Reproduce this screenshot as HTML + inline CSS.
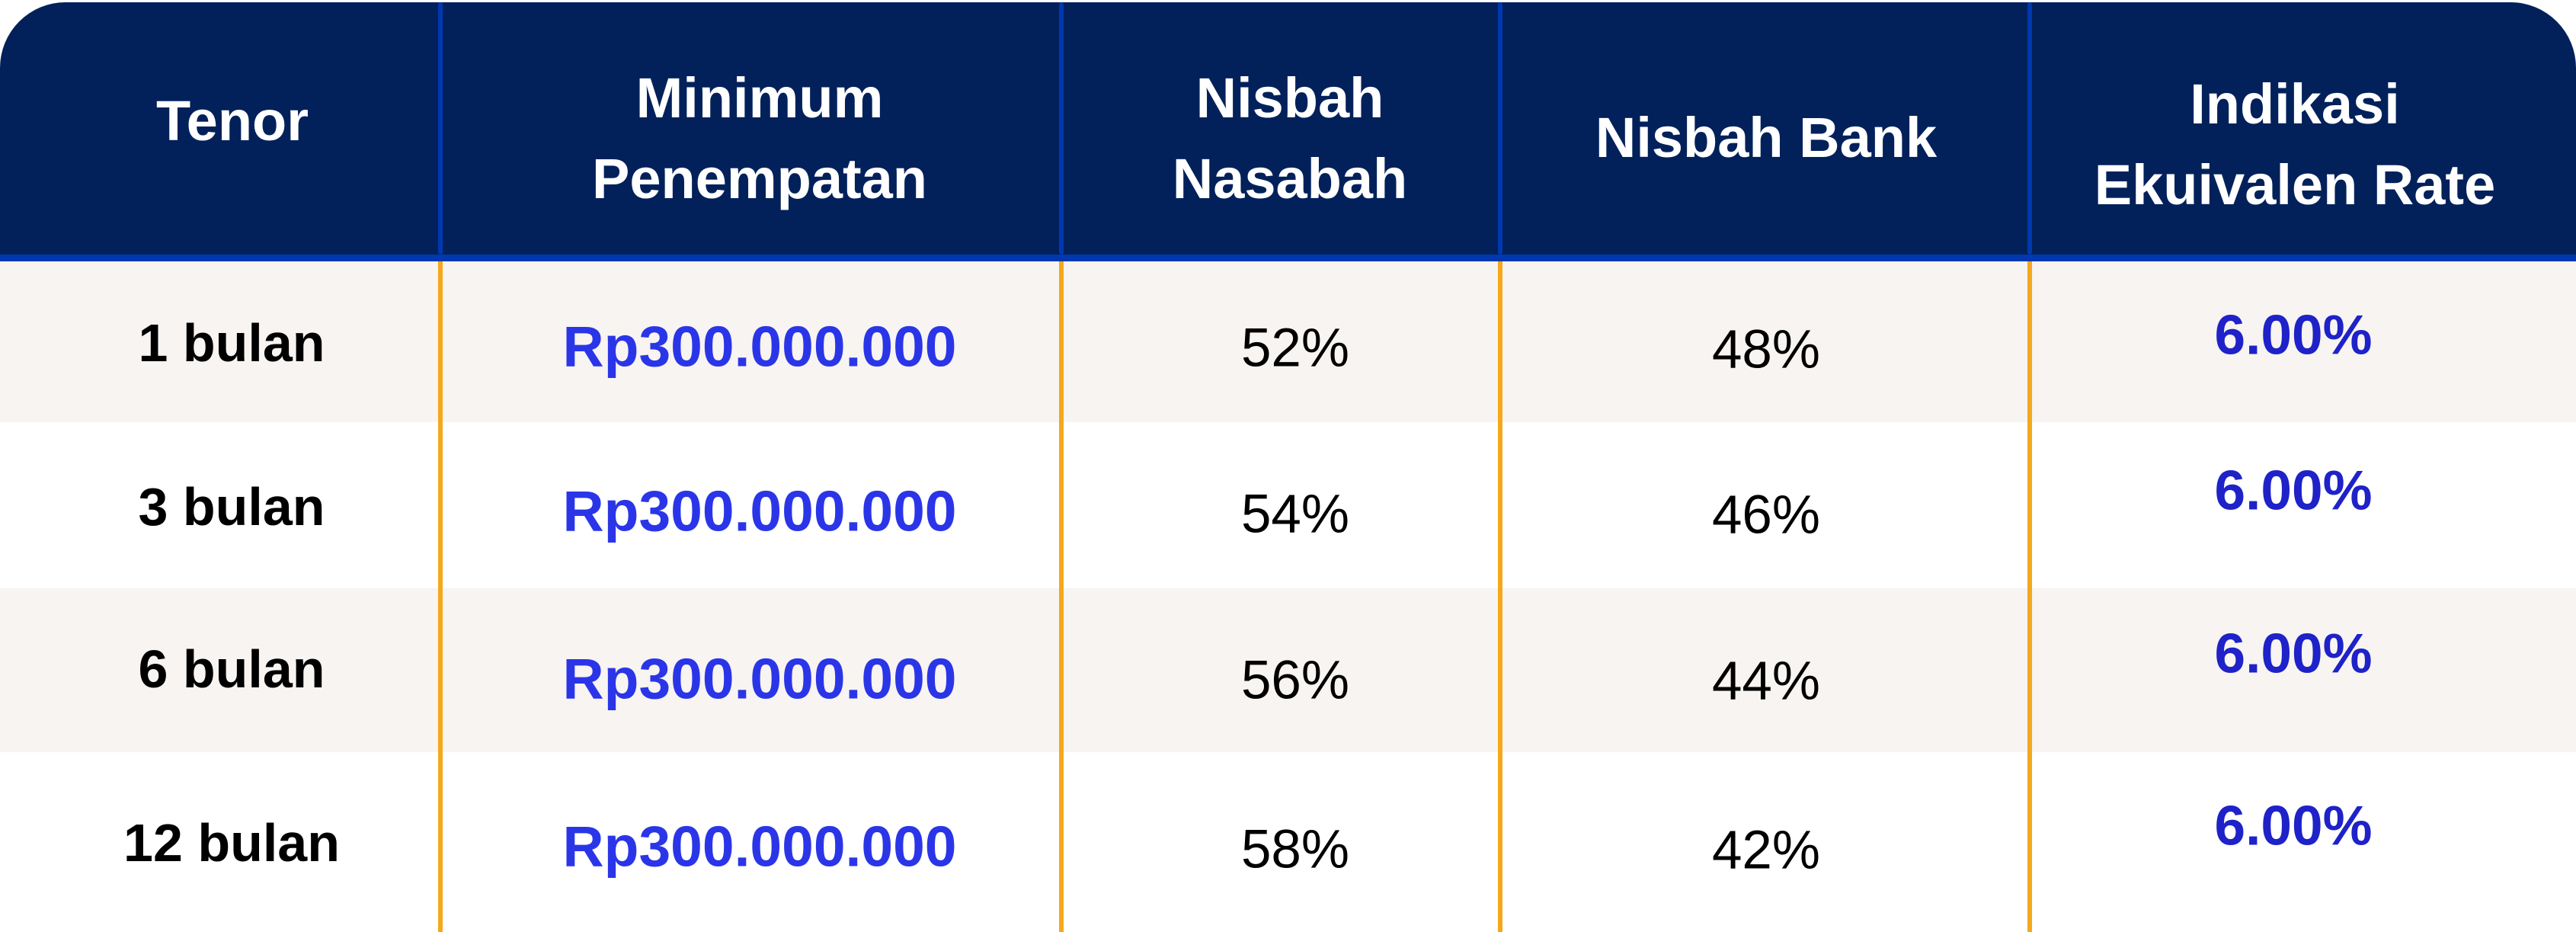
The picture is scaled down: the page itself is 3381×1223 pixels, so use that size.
<!DOCTYPE html>
<html><head><meta charset="utf-8"><style>
html,body{margin:0;padding:0;background:#fff;}
#c{position:relative;width:3381px;height:1223px;overflow:hidden;background:#fff;font-family:"Liberation Sans",sans-serif;}
.hd{position:absolute;left:0;top:3px;width:3381px;height:334px;background:#02215b;border-radius:86px 86px 0 0;}
.bl{position:absolute;left:0;top:334px;width:3381px;height:9px;background:#0038b0;}
.row{position:absolute;left:0;width:3381px;}
.vd{position:absolute;width:6px;background:#0038b0;top:3px;height:331px;border-radius:3px;}
.vo{position:absolute;width:6px;background:#f5a81c;top:343px;height:880px;}
.t{position:absolute;transform:translate(-50%,-50%);white-space:nowrap;line-height:1;}
.h{color:#fff;font-weight:bold;font-size:74px;}
.tn{color:#000;font-weight:bold;font-size:70px;}
.rp{color:#2b35e8;font-weight:bold;font-size:75px;}
.pc{color:#000;font-size:71px;}
.r6{color:#1e22c8;font-weight:bold;font-size:73px;}
</style></head><body><div id="c">
<div class="hd"></div>
<div class="bl"></div>
<div class="row" style="top:343px;height:211px;background:#f7f4f1"></div>
<div class="row" style="top:554px;height:218px;background:#fff"></div>
<div class="row" style="top:772px;height:215px;background:#f7f4f1"></div>
<div class="row" style="top:987px;height:236px;background:#fff"></div>
<div class="vd" style="left:575px"></div><div class="vd" style="left:1390px"></div><div class="vd" style="left:1966px"></div><div class="vd" style="left:2661px"></div>
<div class="vo" style="left:575px"></div><div class="vo" style="left:1390px"></div><div class="vo" style="left:1966px"></div><div class="vo" style="left:2661px"></div>

<div class="t h" style="left:305px;top:159px">Tenor</div>
<div class="t h" style="left:997px;top:129px">Minimum</div>
<div class="t h" style="left:997px;top:235px">Penempatan</div>
<div class="t h" style="left:1693px;top:129px">Nisbah</div>
<div class="t h" style="left:1693px;top:235px">Nasabah</div>
<div class="t h" style="left:2318px;top:181px">Nisbah Bank</div>
<div class="t h" style="left:3012px;top:137px">Indikasi</div>
<div class="t h" style="left:3012px;top:243px">Ekuivalen Rate</div>

<div class="t tn" style="left:304px;top:450px">1 bulan</div>
<div class="t rp" style="left:997px;top:455px">Rp300.000.000</div>
<div class="t pc" style="left:1700px;top:457px">52%</div>
<div class="t pc" style="left:2318px;top:459px">48%</div>
<div class="t r6" style="left:3010px;top:440px">6.00%</div>

<div class="t tn" style="left:304px;top:665px">3 bulan</div>
<div class="t rp" style="left:997px;top:671px">Rp300.000.000</div>
<div class="t pc" style="left:1700px;top:675px">54%</div>
<div class="t pc" style="left:2318px;top:676px">46%</div>
<div class="t r6" style="left:3010px;top:644px">6.00%</div>

<div class="t tn" style="left:304px;top:878px">6 bulan</div>
<div class="t rp" style="left:997px;top:891px">Rp300.000.000</div>
<div class="t pc" style="left:1700px;top:893px">56%</div>
<div class="t pc" style="left:2318px;top:894px">44%</div>
<div class="t r6" style="left:3010px;top:858px">6.00%</div>

<div class="t tn" style="left:304px;top:1106px">12 bulan</div>
<div class="t rp" style="left:997px;top:1111px">Rp300.000.000</div>
<div class="t pc" style="left:1700px;top:1115px">58%</div>
<div class="t pc" style="left:2318px;top:1116px">42%</div>
<div class="t r6" style="left:3010px;top:1084px">6.00%</div>
</div></body></html>
